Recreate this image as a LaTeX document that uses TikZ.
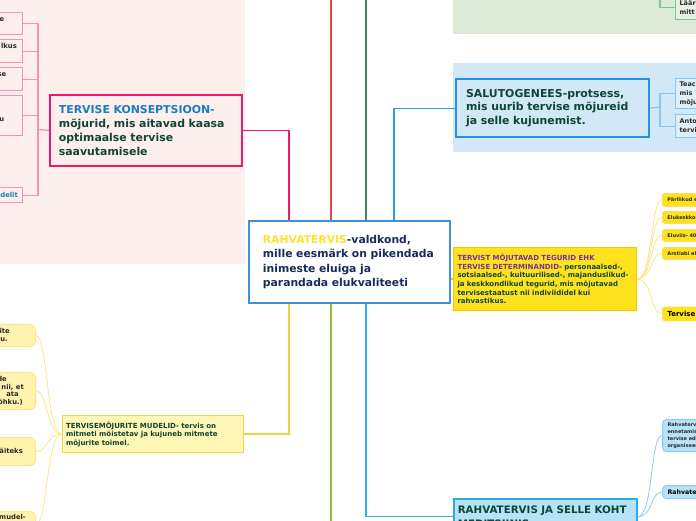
\documentclass[tikz,border=0pt]{standalone}
\usepackage{fontspec}
\setmainfont{DejaVu Sans}
\usepackage{xcolor}
\usetikzlibrary{positioning,calc}

\definecolor{pinkbg}{HTML}{FCEFEC}
\definecolor{greenbg}{HTML}{DCEBD8}
\definecolor{bluebg}{HTML}{D2E8F6}
\definecolor{hotpink}{HTML}{F0186C}
\definecolor{softpink}{HTML}{F592BB}
\definecolor{konsblue}{HTML}{1A7DC0}
\definecolor{darkgreen}{HTML}{0F4535}
\definecolor{navy}{HTML}{1B2A5C}
\definecolor{sunyellow}{HTML}{FFE12E}
\definecolor{midblue}{HTML}{3C92D2}
\definecolor{redline}{HTML}{E8404E}
\definecolor{forest}{HTML}{3D8B5A}
\definecolor{skyblue}{HTML}{2A9BE6}
\definecolor{gold}{HTML}{F0D23A}
\definecolor{lime}{HTML}{8DC02E}
\definecolor{rvcyan}{HTML}{36AEE8}
\definecolor{yellowbox}{HTML}{FFE21E}
\definecolor{yellowedge}{HTML}{F5C400}
\definecolor{detpurple}{HTML}{7B2E9C}
\definecolor{paleyellow}{HTML}{FFF7B5}
\definecolor{paleedge}{HTML}{EED84A}
\definecolor{leafyellow}{HTML}{FFF3AE}
\definecolor{leafedge}{HTML}{FBE78A}
\definecolor{icebox}{HTML}{B6E3F8}
\definecolor{iceedge}{HTML}{2AACE5}
\definecolor{iceleaf}{HTML}{86CFF2}
\definecolor{salutedge}{HTML}{1E94E4}
\definecolor{salutleaf}{HTML}{86C8F0}
\definecolor{mint}{HTML}{80C490}
\definecolor{inkgrey}{HTML}{2A2A2A}

\begin{document}
\begin{tikzpicture}[
    x=1pt, y=-1pt,
    topic/.style={rectangle, draw, anchor=north west, inner ysep=0pt, align=left},
    pleaf/.style={rectangle, draw=softpink, line width=1.3pt, fill=pinkbg, anchor=north west, minimum width=52pt, inner sep=0pt},
    mleaf/.style={rectangle, rounded corners=5pt, draw=leafedge, line width=1pt, fill=leafyellow, anchor=north west, minimum width=60pt, inner sep=0pt},
    rleaf/.style={rectangle, draw, anchor=north west, minimum width=50pt, text width=40pt, inner xsep=5pt, inner ysep=0pt, align=left, text=inkgrey},
    yleaf/.style={rleaf, rounded corners=2.5pt, draw=yellowedge!60, line width=0.8pt, fill=yellowbox, font=\fontsize{5}{6}\selectfont\bfseries},
    bleaf/.style={rleaf, rounded corners=4pt, draw=iceleaf, line width=1pt, fill=icebox, font=\fontsize{5}{7}\selectfont\bfseries},
    sleaf/.style={rleaf, draw=salutleaf, line width=1.2pt, fill=bluebg!70!white, minimum width=40pt, text width=32pt, inner xsep=4pt, font=\fontsize{6.5}{9}\selectfont\bfseries},
    frag/.style={inner sep=0pt, anchor=base east, text=inkgrey, font=\fontsize{6.8}{8}\selectfont\bfseries},
    link/.style={line width=1.2pt},
    twig/.style={line width=0.8pt}
]
    \useasboundingbox (0,0) rectangle (696,520);
    \clip (0,0) rectangle (696,520);

    % Background areas
    \fill[pinkbg] (0,0) rectangle (245,264);
    \fill[greenbg] (453,-5) rectangle (701,34);
    \fill[bluebg] (453,63) rectangle (701,152);

    % Central topic
    \node[topic, draw=midblue, line width=1.8pt, fill=white, minimum width=201pt, minimum height=82pt,
          text width=173pt, inner xsep=14pt, font=\fontsize{10.8}{14.5}\selectfont\bfseries, text=navy] (rv) at (248,220)
          {\textcolor{sunyellow}{RAHVATERVIS}-valdkond,\\ mille eesmärk on pikendada\\ inimeste eluiga ja\\ parandada elukvaliteeti};

    % Tervise konseptsioon
    \node[topic, draw=hotpink, line width=1.8pt, fill=pinkbg, minimum width=192pt, minimum height=71pt,
          text width=174pt, inner xsep=9pt, font=\fontsize{10.9}{14}\selectfont\bfseries, text=darkgreen] (kons) at (49,94)
          {\textcolor{konsblue}{TERVISE KONSEPTSIOON-}\\ mõjurid, mis aitavad kaasa\\ optimaalse tervise\\ saavutamisele};
    \node[pleaf, minimum height=22pt] (p1) at (-30,12) {};
    \node[pleaf, minimum height=23pt] (p2) at (-30,39) {};
    \node[pleaf, minimum height=23pt] (p3) at (-30,67) {};
    \node[pleaf, minimum height=40pt] (p4) at (-30,95) {};
    \node[pleaf, minimum height=15pt] (p5) at (-30,187) {};
    \node[frag] (p1t) at (4.5,21) {e};
    \node[frag] (p2t) at (17,48) {lkus};
    \node[frag] (p3t) at (6.5,76) {se};
    \node[frag] (p4t) at (4.5,121) {u};
    \node[frag, text=konsblue] (p5t) at (18,197) {delit};
    \coordinate (kfork) at (38,129.5);
    \draw[softpink, link] (kons.west) -- (kfork);
    \foreach \n in {p1,p2,p3,p4,p5}
        \draw[softpink, link] (kfork) |- (\n.east);

    % Green branch (top right)
    \node[sleaf, draw=mint, fill=greenbg!70!white, minimum height=24pt] (g1) at (675,-5) {Läär\\ mitt};
    \coordinate (gfork) at (660,-5);
    \draw[mint, link] (gfork) |- (g1.west);

    % Salutogenees
    \node[topic, draw=salutedge, line width=2.2pt, fill=bluebg, minimum width=193pt, minimum height=58pt,
          text width=173pt, inner xsep=10pt, font=\fontsize{10.9}{13.5}\selectfont\bfseries, text=darkgreen] (salut) at (455,78)
          {SALUTOGENEES-protsess,\\ mis uurib tervise mõjureid\\ ja selle kujunemist.};
    \node[sleaf, minimum height=30pt] (s1) at (675,78) {Teac\\ mis\\ mõju};
    \node[sleaf, minimum height=23pt] (s2) at (675,114) {Anto\\ tervi};
    \coordinate (sfork) at (660,107);
    \draw[salutleaf, link] (salut.east) -- (sfork);
    \foreach \n in {s1,s2}
        \draw[salutleaf, link] (sfork) |- (\n.west);

    % Tervise determinandid
    \node[topic, draw=yellowedge, line width=1pt, fill=yellowbox, minimum width=183pt, minimum height=63pt,
          text width=175pt, inner xsep=4pt, font=\fontsize{7}{8.6}\selectfont\bfseries, text=darkgreen] (tdet) at (453,247)
          {\textcolor{detpurple}{TERVIST MÕJUTAVAD TEGURID EHK}\\ \textcolor{detpurple}{TERVISE DETERMINANDID}- personaalsed-,\\
           sotsiaalsed-, kultuurilised-, majanduslikud-\\ ja keskkondlikud tegurid, mis mõjutavad\\
           tervisestaatust nii indiviididel kui\\ rahvastikus.};
    \node[yleaf, minimum height=13pt] (y1) at (662,193) {Pärilikud e};
    \node[yleaf, minimum height=12pt] (y2) at (662,211) {Elukeskkon};
    \node[yleaf, minimum height=12pt] (y3) at (662,229) {Eluviis- 40};
    \node[yleaf, minimum height=12pt] (y4) at (662,247) {Arstiabi eh};
    \node[yleaf, minimum height=14pt, font=\fontsize{7}{8}\selectfont\bfseries, text=black] (y5) at (662,306.5) {Tervise d};
    \foreach \n in {y1,y2,y3,y4,y5}
        \draw[yellowedge!45, twig] (tdet.east) .. controls +(16,0) and +(-12,0) .. (\n.west);

    % Tervisemojurite mudelid
    \node[topic, draw=paleedge, line width=1pt, fill=paleyellow, minimum width=181pt, minimum height=37pt,
          text width=174pt, inner xsep=3.5pt, font=\fontsize{7}{8.5}\selectfont\bfseries, text=darkgreen] (mud) at (62,415)
          {TERVISEMÕJURITE MUDELID- tervis on\\ mitmeti mõistetav ja kujuneb mitmete\\ mõjurite toimel.};
    \node[mleaf, minimum height=22pt] (m1) at (-25,324) {};
    \node[mleaf, minimum height=37pt] (m2) at (-25,372) {};
    \node[mleaf, minimum height=28pt] (m3) at (-25,437) {};
    \node[mleaf, minimum height=24pt] (m4) at (-25,511) {};
    \node[frag] (m1a) at (10,333) {rite};
    \node[frag] (m1b) at (8,341) {ku.};
    \node[frag] (m2a) at (7,381) {de};
    \node[frag] (m2b) at (24,389) {nii, et};
    \node[frag] (m2c) at (19,396.5) {ata};
    \node[frag] (m2d) at (23,404) {röhku.)};
    \node[frag] (m3a) at (23,453) {äiteks};
    \node[frag] (m4a) at (26,519) {mudel-};
    \foreach \n in {m1,m2,m3,m4}
        \draw[leafedge, twig] (mud.west) .. controls +(-16,0) and +(12,0) .. (\n.east);

    % Rahvatervis ja meditsiin
    \node[topic, draw=iceedge, line width=1.5pt, fill=icebox, minimum width=183pt, minimum height=36pt,
          text width=175pt, inner xsep=4pt, font=\fontsize{10.3}{14}\selectfont\bfseries, text=darkgreen] (rvmed) at (453,498)
          {RAHVATERVIS JA SELLE KOHT\\ MEDITSIINIS};
    \node[bleaf, minimum height=32pt] (b1) at (662,419) {Rahvatervi\\ ennetamise\\ tervise ede\\ organiseeri};
    \node[bleaf, minimum height=13pt, font=\fontsize{6.3}{7}\selectfont\bfseries, text=black] (b2) at (662,485) {Rahvaterv};
    \foreach \n in {b1,b2}
        \draw[iceleaf, twig] (rvmed.east) .. controls +(16,0) and +(-12,0) .. (\n.west);

    % Main branches
    \coordinate (top) at (0,-5);
    \coordinate (bottom) at (0,525);
    \coordinate (kjoin) at ($(rv.north west)+(41,0)$);
    \coordinate (rjoin) at ($(rv.north west)+(83,0)$);
    \coordinate (gjoin) at ($(rv.north west)+(118,0)$);
    \coordinate (sjoin) at ($(rv.north west)+(146,0)$);
    \coordinate (mjoin) at ($(rv.south west)+(41,0)$);
    \coordinate (ljoin) at ($(rv.south west)+(83,0)$);
    \coordinate (bjoin) at ($(rv.south west)+(118,0)$);
    \draw[hotpink, link] (kjoin) |- (kons.east);
    \draw[redline, link] (rjoin) -- (rjoin |- top);
    \draw[forest, link] (gjoin) -- (gjoin |- top);
    \draw[skyblue, link] (sjoin) |- (salut.west);
    \draw[yellowedge, link] (rv.east |- tdet.west) -- (tdet.west);
    \draw[gold, link] (mjoin) |- (mud.east);
    \draw[lime, link] (ljoin) -- (ljoin |- bottom);
    \draw[rvcyan, link] (bjoin) |- (rvmed.west);

\end{tikzpicture}
\end{document}
